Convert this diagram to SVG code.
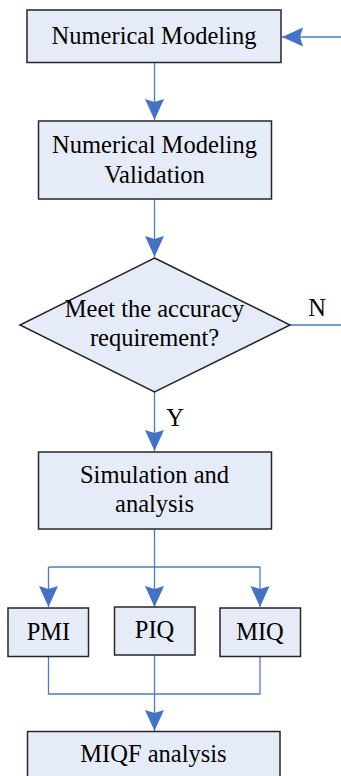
<svg xmlns="http://www.w3.org/2000/svg" width="341" height="776" viewBox="0 0 341 776">
<style>
.node{fill:#E6ECF7;stroke:#262626;stroke-width:1.5}
.t{font-family:"Liberation Serif","Times New Roman",serif;font-size:24.5px;fill:#000;text-anchor:middle}
.c{fill:none;stroke:#4A7CC9;stroke-width:1.3}
.a{fill:#4472C4}
</style>
<defs>
<marker id="arr" markerUnits="userSpaceOnUse" viewBox="0 -10 21 20" refX="21" refY="0" markerWidth="21" markerHeight="20" orient="auto">
<path class="a" d="M0,-9.5 L21,0 L0,9.5 L3,0 Z"/>
</marker>
</defs>
<rect width="341" height="776" fill="#fff"/>
<g id="connectors">
<line class="c" x1="341" y1="37" x2="282" y2="37" marker-end="url(#arr)"/>
<line class="c" x1="154.5" y1="63" x2="154.5" y2="120" marker-end="url(#arr)"/>
<line class="c" x1="154.5" y1="199" x2="154.5" y2="257" marker-end="url(#arr)"/>
<line class="c" x1="290" y1="325" x2="341" y2="325"/>
<line class="c" x1="154.5" y1="392" x2="154.5" y2="451" marker-end="url(#arr)"/>
<line class="c" x1="154.5" y1="529" x2="154.5" y2="567"/>
<line class="c" x1="48.5" y1="567" x2="260" y2="567"/>
<line class="c" x1="48.5" y1="567" x2="48.5" y2="607" marker-end="url(#arr)"/>
<line class="c" x1="154.5" y1="567" x2="154.5" y2="607" marker-end="url(#arr)"/>
<line class="c" x1="260" y1="567" x2="260" y2="607" marker-end="url(#arr)"/>
<polyline class="c" points="48.5,657 48.5,694 260,694 260,657"/>
<line class="c" x1="154.5" y1="655" x2="154.5" y2="731" marker-end="url(#arr)"/>
<text class="t" x="317" y="316">N</text>
<text class="t" x="175" y="426">Y</text>
</g>
<g id="n1">
<rect class="node" x="27" y="10" width="254" height="52.5"/>
<text class="t" x="154" y="43.5">Numerical Modeling</text>
</g>
<g id="n2">
<rect class="node" x="38.5" y="121" width="233" height="78"/>
<text class="t" x="154.5" y="153">Numerical Modeling</text>
<text class="t" x="154.5" y="183">Validation</text>
</g>
<g id="n3">
<polygon class="node" points="154.5,258 290,325 154.5,392 20,325"/>
<text class="t" x="154.5" y="317">Meet the accuracy</text>
<text class="t" x="154.5" y="346">requirement?</text>
</g>
<g id="n4">
<rect class="node" x="38.5" y="452" width="233" height="77"/>
<text class="t" x="154.5" y="482.5">Simulation and</text>
<text class="t" x="154.5" y="511.5">analysis</text>
</g>
<g id="n5">
<rect class="node" x="8" y="608" width="80.5" height="48.5"/>
<text class="t" x="48.5" y="640">PMI</text>
</g>
<g id="n6">
<rect class="node" x="114.5" y="607" width="80.5" height="48"/>
<text class="t" x="154.5" y="638">PIQ</text>
</g>
<g id="n7">
<rect class="node" x="220" y="608" width="80.5" height="48.5"/>
<text class="t" x="260" y="640">MIQ</text>
</g>
<g id="n8">
<rect class="node" x="27.5" y="731.5" width="252.5" height="60"/>
<text class="t" x="153.5" y="762">MIQF analysis</text>
</g>
</svg>
